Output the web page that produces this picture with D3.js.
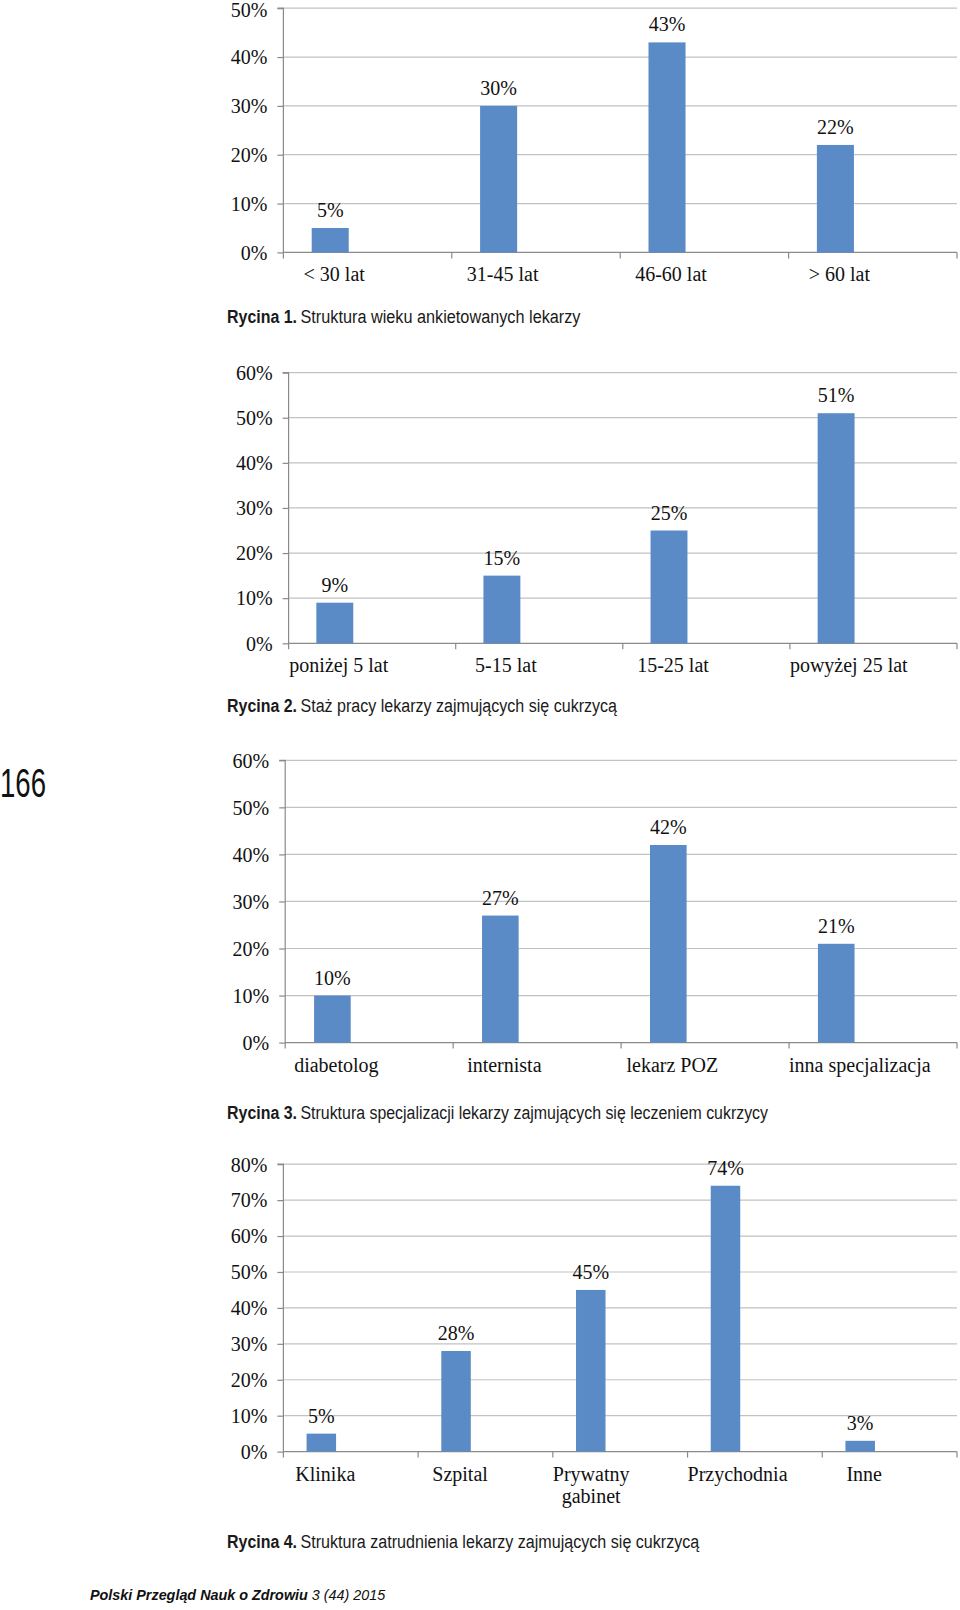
<!DOCTYPE html>
<html>
<head>
<meta charset="utf-8">
<script src="https://cdn.jsdelivr.net/npm/d3@7"></script>
<style>
  html, body { margin: 0; padding: 0; background: #ffffff; }
  svg { display: block; }
</style>
</head>
<body>
<svg id="chart" width="960" height="1610"></svg>
<script>
// ---------- DATA ----------
const ageCategories = ["< 30 lat", "31-45 lat", "46-60 lat", "> 60 lat"];
const ageValues = [5, 30, 43, 22];
const ageTicks = [0, 10, 20, 30, 40, 50];

const seniorityCategories = ["poniżej 5 lat", "5-15 lat", "15-25 lat", "powyżej 25 lat"];
const seniorityValues = [9, 15, 25, 51];
const seniorityTicks = [0, 10, 20, 30, 40, 50, 60];

const specialtyCategories = ["diabetolog", "internista", "lekarz POZ", "inna specjalizacja"];
const specialtyValues = [10, 27, 42, 21];
const specialtyTicks = [0, 10, 20, 30, 40, 50, 60];

const workplaceCategories = [["Klinika"], ["Szpital"], ["Prywatny", "gabinet"], ["Przychodnia"], ["Inne"]];
const workplaceValues = [5, 28, 45, 74, 3];
const workplaceTicks = [0, 10, 20, 30, 40, 50, 60, 70, 80];

const captionLabels = ["Rycina 1.", "Rycina 2.", "Rycina 3.", "Rycina 4."];
const captionTexts = [
  "Struktura wieku ankietowanych lekarzy",
  "Staż pracy lekarzy zajmujących się cukrzycą",
  "Struktura specjalizacji lekarzy zajmujących się leczeniem cukrzycy",
  "Struktura zatrudnienia lekarzy zajmujących się cukrzycą"
];
const pageNumber = "166";
const footerTitle = "Polski Przegląd Nauk o Zdrowiu";
const footerIssue = "3 (44) 2015";

// ---------- STYLE ----------
const BAR = "#5b8bc6";
const GRID = "#c2c2c2";
const AXIS = "#8a8a8a";
const SERIF = "'Liberation Serif', 'Times New Roman', serif";
const SANS = "'Liberation Sans Narrow', 'Liberation Sans', Arial, sans-serif";

const svg = d3.select("#chart");

function drawChart(cfg) {
  const g = svg.append("g");
  const labels = cfg.categories.map(c => Array.isArray(c) ? c : [c]);
  const keys = labels.map(l => l.join(" "));
  const x = d3.scaleBand().domain(keys).range([cfg.left, cfg.right]).padding(0);
  const y = d3.scaleLinear().domain([0, d3.max(cfg.ticks)]).range([cfg.bottom, cfg.top]);
  const bw = x.bandwidth();

  // gridlines
  g.selectAll("line.grid").data(cfg.ticks.filter(t => t > 0)).enter().append("line")
    .attr("x1", cfg.left).attr("x2", cfg.right)
    .attr("y1", d => y(d)).attr("y2", d => y(d))
    .attr("stroke", GRID).attr("stroke-width", 1.2);

  // y axis via d3.axisLeft
  const yAxis = d3.axisLeft(y).tickValues(cfg.ticks).tickSize(6).tickFormat(d => d + "%");
  const ya = g.append("g").attr("transform", `translate(${cfg.left},0)`).call(yAxis);
  ya.select(".domain").attr("stroke", AXIS).attr("stroke-width", 1.2)
    .attr("d", `M-6,${cfg.top}H0V${cfg.bottom + 6}`);
  ya.selectAll(".tick line").attr("stroke", AXIS).attr("stroke-width", 1.2);
  ya.selectAll(".tick text").attr("x", -16)
    .attr("dy", d => (y(d) < 14 ? "0.42em" : "0.34em"))
    .attr("font-family", SERIF).attr("font-size", 20).attr("fill", "#111");

  // x axis line and category boundary ticks
  g.append("line").attr("x1", cfg.left).attr("x2", cfg.right)
    .attr("y1", cfg.bottom).attr("y2", cfg.bottom)
    .attr("stroke", AXIS).attr("stroke-width", 1.2);
  const bounds = keys.map(k => x(k)).concat([cfg.right]).slice(1);
  g.selectAll("line.xt").data(bounds).enter().append("line")
    .attr("x1", d => d).attr("x2", d => d)
    .attr("y1", cfg.bottom).attr("y2", cfg.bottom + 6)
    .attr("stroke", AXIS).attr("stroke-width", 1.2);

  // bars
  const barX = k => x(k) + bw * cfg.offset;
  const barW = bw * cfg.width;
  g.selectAll("rect.bar").data(cfg.values).enter().append("rect")
    .attr("x", (d, i) => barX(keys[i]))
    .attr("width", barW)
    .attr("y", d => y(d))
    .attr("height", d => cfg.bottom - y(d))
    .attr("fill", BAR);

  // data labels
  g.selectAll("text.val").data(cfg.values).enter().append("text")
    .attr("x", (d, i) => barX(keys[i]) + barW / 2)
    .attr("y", d => y(d) - 11)
    .attr("text-anchor", "middle")
    .attr("font-family", SERIF).attr("font-size", 20).attr("fill", "#111")
    .text(d => d + "%");

  // category labels
  labels.forEach((lines, i) => {
    const k = keys[i];
    const t = g.append("text")
      .attr("font-family", SERIF).attr("font-size", 20).attr("fill", "#111")
      .attr("text-anchor", "middle")
      .attr("y", cfg.bottom + 29);
    const spans = lines.map((ln, j) =>
      t.append("tspan").attr("dy", j === 0 ? 0 : 22.5).text(ln));
    const w = d3.max(spans, s => s.node().getComputedTextLength());
    const cx = Math.max(barX(k) + barW / 2 + (lines.length > 1 ? 0 : 4), x(k) + w / 2);
    spans.forEach(s => s.attr("x", cx));
  });

  // caption
  svg.append("text").attr("x", 227).attr("y", cfg.captionY)
    .attr("font-family", SANS).attr("font-weight", "bold").attr("font-size", 18)
    .attr("fill", "#1a1a1a")
    .attr("textLength", 70).attr("lengthAdjust", "spacingAndGlyphs")
    .text(captionLabels[cfg.idx]);
  svg.append("text").attr("x", 300.5).attr("y", cfg.captionY)
    .attr("font-family", SANS).attr("font-size", 18).attr("fill", "#1a1a1a")
    .attr("textLength", cfg.captionEnd - 300.5).attr("lengthAdjust", "spacingAndGlyphs")
    .text(captionTexts[cfg.idx]);
}

drawChart({ idx: 0, categories: ageCategories, values: ageValues, ticks: ageTicks,
  left: 283.4, right: 957, top: 8.2, bottom: 252.4, offset: 0.168, width: 0.22,
  captionY: 323, captionEnd: 580.5 });

drawChart({ idx: 1, categories: seniorityCategories, values: seniorityValues, ticks: seniorityTicks,
  left: 288.6, right: 957, top: 372.6, bottom: 643.3, offset: 0.166, width: 0.221,
  captionY: 711.5, captionEnd: 617 });

drawChart({ idx: 2, categories: specialtyCategories, values: specialtyValues, ticks: specialtyTicks,
  left: 285.2, right: 957, top: 760.3, bottom: 1042.6, offset: 0.172, width: 0.218,
  captionY: 1118.5, captionEnd: 768 });

drawChart({ idx: 3, categories: workplaceCategories, values: workplaceValues, ticks: workplaceTicks,
  left: 283.4, right: 957, top: 1164.2, bottom: 1451.6, offset: 0.172, width: 0.219,
  captionY: 1547.5, captionEnd: 699.3 });

// page number
svg.append("text").attr("x", 0).attr("y", 797)
  .attr("font-family", "'Liberation Sans', Arial, sans-serif").attr("font-size", 40)
  .attr("fill", "#111").attr("textLength", 46).attr("lengthAdjust", "spacingAndGlyphs")
  .text(pageNumber);

// footer: two runs, sized naturally to fit the target span (no glyph stretching)
const footer = svg.append("text").attr("x", 90).attr("y", 1600)
  .attr("font-family", SANS).attr("font-style", "italic")
  .attr("font-size", 16).attr("fill", "#111");
footer.append("tspan").attr("font-weight", "bold").text(footerTitle);
footer.append("tspan").attr("font-weight", "normal").attr("dx", 4).text(footerIssue);
const natural = footer.node().getComputedTextLength() + 4;
footer.attr("font-size", 16 * 295 / natural);
</script>
</body>
</html>
